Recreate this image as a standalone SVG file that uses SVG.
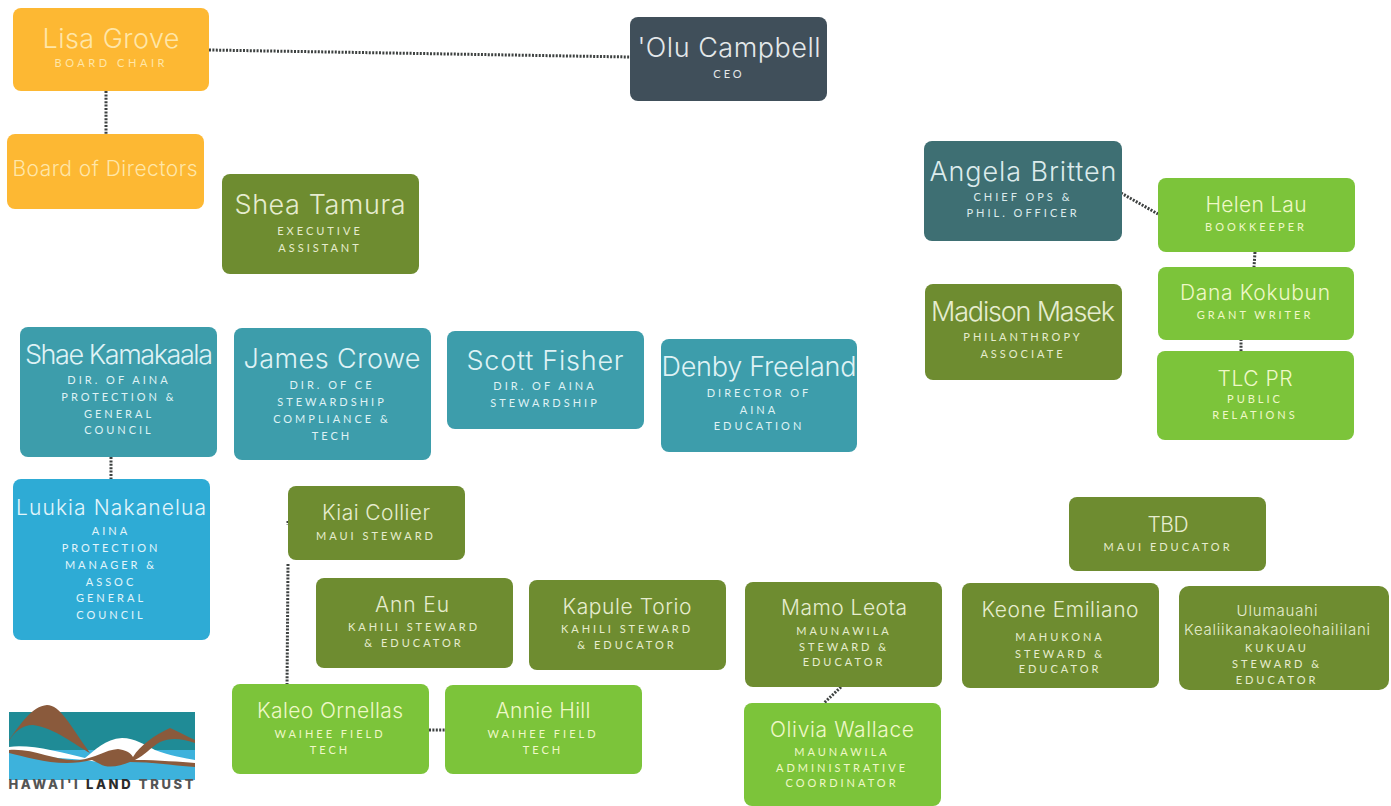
<svg xmlns="http://www.w3.org/2000/svg" width="1391" height="806" viewBox="0 0 1391 806">
<style>
text{font-family:"Inter","Lato","Liberation Sans",sans-serif;text-anchor:middle}
.n{font-size:27px;font-weight:300}
.m{font-size:21px;font-weight:300}
.u{font-size:15px;font-weight:300}
.s{font-family:"Lato","Liberation Sans",sans-serif;font-size:11px;letter-spacing:3px;font-weight:400}
.orange rect{fill:#fdb833}.orange text{fill:#ffe6a8}
.slate rect{fill:#404f5a}.slate text{fill:#e4e8ea}
.deep rect{fill:#3e6f73}.deep text{fill:#dcebec}
.olive rect{fill:#6e8c30}.olive text{fill:#e6eccf}
.teal rect{fill:#3d9dab}.teal text{fill:#dff2f5}
.blue rect{fill:#2eabd5}.blue text{fill:#e2f5fb}
.green rect{fill:#7cc43a}.green text{fill:#eff8c8}
.conn path{fill:none;stroke:#3d4140;stroke-width:3;stroke-dasharray:2 1.4}
</style>
<rect width="1391" height="806" fill="#fff"/>
<g class="conn" id="connectors">
<path d="M209 50L630 57"/>
<path d="M106 91V134"/>
<path d="M1121 193L1158 214"/>
<path d="M1255 252L1254 267"/>
<path d="M1241 339L1241 351"/>
<path d="M111 457V487"/>
<path d="M288 521V525"/>
<path d="M288 564L287 688"/>
<path d="M429 730H445"/>
<path d="M841 687L824 703"/>
</g>
<g id="lisa-grove" class="orange"><rect x="13" y="8" width="196" height="83" rx="8"/><text class="n" x="111" y="48" textLength="137">Lisa Grove</text><text class="s" x="111" y="67" textLength="113">BOARD CHAIR</text></g>
<g id="board" class="orange"><rect x="7" y="134" width="197" height="75" rx="8"/><text class="m" x="105" y="176" textLength="185">Board of Directors</text></g>
<g id="olu-campbell" class="slate"><rect x="630" y="17" width="197" height="84" rx="8"/><text class="n" x="729" y="57" textLength="183">'Olu Campbell</text><text class="s" x="729" y="78">CEO</text></g>
<g id="shea-tamura" class="olive"><rect x="222" y="174" width="197" height="100" rx="8"/><text class="n" x="320" y="214" textLength="171">Shea Tamura</text><text class="s" x="320" y="235">EXECUTIVE</text><text class="s" x="320" y="252">ASSISTANT</text></g>
<g id="angela-britten" class="deep"><rect x="924" y="141" width="198" height="100" rx="8"/><text class="n" x="1023" y="181" textLength="187">Angela Britten</text><text class="s" x="1023" y="201">CHIEF OPS &amp;</text><text class="s" x="1023" y="217">PHIL. OFFICER</text></g>
<g id="madison-masek" class="olive"><rect x="925" y="284" width="197" height="96" rx="8"/><text class="n" x="1023" y="321" textLength="184">Madison Masek</text><text class="s" x="1023" y="341">PHILANTHROPY</text><text class="s" x="1023" y="358">ASSOCIATE</text></g>
<g id="helen-lau" class="green"><rect x="1158" y="178" width="197" height="74" rx="8"/><text class="m" x="1256" y="212" textLength="101">Helen Lau</text><text class="s" x="1256" y="231">BOOKKEEPER</text></g>
<g id="dana-kokubun" class="green"><rect x="1158" y="267" width="196" height="73" rx="8"/><text class="m" x="1255" y="300" textLength="150">Dana Kokubun</text><text class="s" x="1255" y="319">GRANT WRITER</text></g>
<g id="tlc-pr" class="green"><rect x="1157" y="351" width="197" height="89" rx="8"/><text class="m" x="1255" y="386" textLength="75">TLC PR</text><text class="s" x="1255" y="403">PUBLIC</text><text class="s" x="1255" y="419">RELATIONS</text></g>
<g id="shae-kamakaala" class="teal"><rect x="20" y="327" width="197" height="130" rx="8"/><text class="n" x="119" y="364" textLength="188">Shae Kamakaala</text><text class="s" x="119" y="384">DIR. OF AINA</text><text class="s" x="119" y="401">PROTECTION &amp;</text><text class="s" x="119" y="418">GENERAL</text><text class="s" x="119" y="434">COUNCIL</text></g>
<g id="james-crowe" class="teal"><rect x="234" y="328" width="197" height="132" rx="8"/><text class="n" x="332" y="368" textLength="177">James Crowe</text><text class="s" x="332" y="389">DIR. OF CE</text><text class="s" x="332" y="406">STEWARDSHIP</text><text class="s" x="332" y="423">COMPLIANCE &amp;</text><text class="s" x="332" y="440">TECH</text></g>
<g id="scott-fisher" class="teal"><rect x="447" y="331" width="197" height="98" rx="8"/><text class="n" x="545" y="370" textLength="157">Scott Fisher</text><text class="s" x="545" y="390">DIR. OF AINA</text><text class="s" x="545" y="407">STEWARDSHIP</text></g>
<g id="denby-freeland" class="teal"><rect x="661" y="339" width="196" height="113" rx="8"/><text class="n" x="759" y="376" textLength="195">Denby Freeland</text><text class="s" x="759" y="397">DIRECTOR OF</text><text class="s" x="759" y="414">AINA</text><text class="s" x="759" y="430">EDUCATION</text></g>
<g id="luukia-nakanelua" class="blue"><rect x="13" y="479" width="197" height="161" rx="8"/><text class="m" x="111" y="515" textLength="190">Luukia Nakanelua</text><text class="s" x="111" y="535">AINA</text><text class="s" x="111" y="552">PROTECTION</text><text class="s" x="111" y="569">MANAGER &amp;</text><text class="s" x="111" y="586">ASSOC</text><text class="s" x="111" y="602">GENERAL</text><text class="s" x="111" y="619">COUNCIL</text></g>
<g id="kiai-collier" class="olive"><rect x="288" y="486" width="177" height="74" rx="8"/><text class="m" x="376" y="520" textLength="108">Kiai Collier</text><text class="s" x="376" y="540">MAUI STEWARD</text></g>
<g id="tbd" class="olive"><rect x="1069" y="497" width="197" height="74" rx="8"/><text class="m" x="1168" y="532" textLength="41">TBD</text><text class="s" x="1168" y="551">MAUI EDUCATOR</text></g>
<g id="ann-eu" class="olive"><rect x="316" y="578" width="197" height="90" rx="8"/><text class="m" x="412" y="612" textLength="74">Ann Eu</text><text class="s" x="414" y="631">KAHILI STEWARD</text><text class="s" x="414" y="647">&amp; EDUCATOR</text></g>
<g id="kapule-torio" class="olive"><rect x="529" y="580" width="197" height="90" rx="8"/><text class="m" x="627" y="614" textLength="129">Kapule Torio</text><text class="s" x="627" y="633">KAHILI STEWARD</text><text class="s" x="627" y="649">&amp; EDUCATOR</text></g>
<g id="mamo-leota" class="olive"><rect x="745" y="582" width="197" height="105" rx="8"/><text class="m" x="844" y="615" textLength="126">Mamo Leota</text><text class="s" x="844" y="635">MAUNAWILA</text><text class="s" x="844" y="651">STEWARD &amp;</text><text class="s" x="844" y="666">EDUCATOR</text></g>
<g id="keone-emiliano" class="olive"><rect x="962" y="583" width="197" height="105" rx="8"/><text class="m" x="1060" y="617" textLength="157">Keone Emiliano</text><text class="s" x="1060" y="641">MAHUKONA</text><text class="s" x="1060" y="658">STEWARD &amp;</text><text class="s" x="1060" y="673">EDUCATOR</text></g>
<g id="ulumauahi" class="olive"><rect x="1179" y="586" width="210" height="104" rx="10"/><text class="u" x="1277" y="616" textLength="81">Ulumauahi</text><text class="u" x="1277" y="635" textLength="186">Kealiikanakaoleohaililani</text><text class="s" x="1277" y="652">KUKUAU</text><text class="s" x="1277" y="668">STEWARD &amp;</text><text class="s" x="1277" y="684">EDUCATOR</text></g>
<g id="kaleo-ornellas" class="green"><rect x="232" y="684" width="197" height="90" rx="8"/><text class="m" x="330" y="718" textLength="146">Kaleo Ornellas</text><text class="s" x="330" y="738">WAIHEE FIELD</text><text class="s" x="330" y="754">TECH</text></g>
<g id="annie-hill" class="green"><rect x="445" y="685" width="197" height="89" rx="8"/><text class="m" x="543" y="718" textLength="95">Annie Hill</text><text class="s" x="543" y="738">WAIHEE FIELD</text><text class="s" x="543" y="754">TECH</text></g>
<g id="olivia-wallace" class="green"><rect x="744" y="703" width="197" height="103" rx="8"/><text class="m" x="842" y="737" textLength="144">Olivia Wallace</text><text class="s" x="842" y="756">MAUNAWILA</text><text class="s" x="842" y="772">ADMINISTRATIVE</text><text class="s" x="842" y="787">COORDINATOR</text></g>
<g id="logo">
<rect x="9" y="712" width="186" height="40" fill="#1f8b96"/>
<rect x="9" y="750" width="186" height="30" fill="#3db2dc"/>
<path d="M9 747C30 744 60 752 85 758C95 750 105 739 122 738C135 738 145 745 155 750C170 756 185 758 195 760V765C170 764 150 762 130 760C110 764 95 762 85 760C60 758 30 756 9 752Z" fill="#fff"/>
<path d="M9 740C20 725 32 706 47 705C60 705 70 725 90 753C75 745 55 728 33 725C22 725 14 732 9 741Z" fill="#8a5a3c"/>
<path d="M9 750C35 748 55 762 80 760C95 758 105 750 118 749C125 750 130 752 133 757C140 745 155 735 170 728C180 732 188 737 195 740V743C180 738 170 738 160 742C150 748 145 755 135 760C160 760 180 762 195 763V767C170 765 150 762 130 762C120 766 108 769 100 764L92 760C60 768 30 758 9 753Z" fill="#8a5a3c"/>
<text x="101" y="789" font-size="13" font-weight="800" fill="#2b2b2b" textLength="185"><tspan fill="#555">HAWAI'I</tspan> LAND <tspan fill="#555">TRUST</tspan></text>
</g>
</svg>
